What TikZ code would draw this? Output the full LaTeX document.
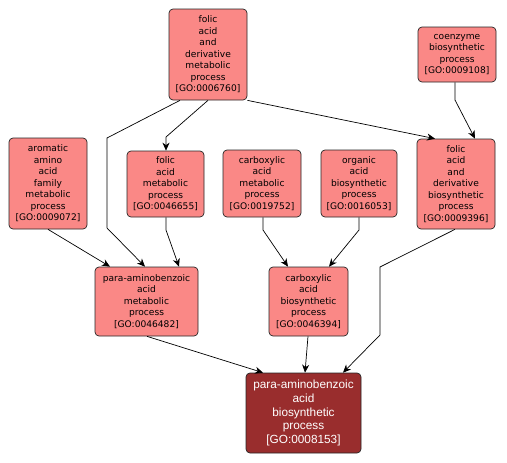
\documentclass[tikz,border=0pt]{standalone}
\usepackage{fontspec}
\newfontfamily\lightfont{DejaVu Sans}
\newfontfamily\darkfont{Liberation Sans}
\usetikzlibrary{arrows.meta}
\definecolor{lightbox}{RGB}{250,136,134}
\definecolor{darkbox}{RGB}{153,45,45}
\tikzset{
  term/.style={draw=black!85, line width=0.7pt, fill=lightbox, rounded corners=4pt,
    inner sep=0pt, align=center, font={\lightfont\fontsize{9.1}{11.5}\selectfont}},
  goal/.style={draw=black!85, line width=0.7pt, fill=darkbox, rounded corners=4pt,
    inner sep=0pt, align=center, text=white, font={\darkfont\fontsize{11.8}{13.75}\selectfont}},
  edge/.style={draw=black, line width=0.7pt, -{Stealth[length=8pt,width=7pt,inset=2.5pt]}},
}
\begin{document}
\begin{tikzpicture}[x=1pt,y=-1pt]
\useasboundingbox (0,0) rectangle (507,463);
\node[term, minimum width=78pt, minimum height=91pt] (n1) at (208,54.5) {folic\\acid\\and\\derivative\\metabolic\\process\\{[GO:0006760]}};
\node[term, minimum width=78pt, minimum height=55pt] (n2) at (457,54.5) {coenzyme\\biosynthetic\\process\\{[GO:0009108]}};
\node[term, minimum width=78pt, minimum height=90pt] (n3) at (456,184) {folic\\acid\\and\\derivative\\biosynthetic\\process\\{[GO:0009396]}};
\node[term, minimum width=78pt, minimum height=91pt] (n4) at (48,183.5) {aromatic\\amino\\acid\\family\\metabolic\\process\\{[GO:0009072]}};
\node[term, minimum width=77pt, minimum height=66pt] (n5) at (165.5,184) {folic\\acid\\metabolic\\process\\{[GO:0046655]}};
\node[term, minimum width=78pt, minimum height=67pt] (n6) at (262,183.5) {carboxylic\\acid\\metabolic\\process\\{[GO:0019752]}};
\node[term, minimum width=76pt, minimum height=67pt] (n7) at (359,183.5) {organic\\acid\\biosynthetic\\process\\{[GO:0016053]}};
\node[term, minimum width=103pt, minimum height=69pt] (n8) at (146.5,301.5) {para-aminobenzoic\\acid\\metabolic\\process\\{[GO:0046482]}};
\node[term, minimum width=79pt, minimum height=69pt] (n9) at (308.5,301.5) {carboxylic\\acid\\biosynthetic\\process\\{[GO:0046394]}};
\node[goal, minimum width=115pt, minimum height=80pt] (n10) at (303.5,413) {para-aminobenzoic\\acid\\biosynthetic\\process\\{[GO:0008153]}};
% edges
\draw[edge] (n1.south -| 180,0) -- (107,138) -- (107,228) -- (n8.north -| 145,0);
\draw[edge] (n1.south -| 208,0) -- (166,137) -- (n5.north -| 166,0);
\draw[edge] (n1.south east) -- (n3.north -| 435,0);
\draw[edge] (n2.south -| 455,0) -- (455,100) -- (n3.north -| 475,0);
\draw[edge] (n4.south -| 48,0) -- (n8.north -| 110,0);
\draw[edge] (n5.south -| 166,0) -- (166,230) -- (n8.north -| 179,0);
\draw[edge] (n6.south -| 263,0) -- (263,230) -- (n9.north -| 288,0);
\draw[edge] (n7.south -| 359,0) -- (359,230) -- (n9.north -| 329,0);
\draw[edge] (n8.south -| 147,0) -- (n10.north -| 263,0);
\draw[edge] (n9.south -| 308,0) -- (n10.north -| 305,0);
\draw[edge] (n3.south -| 455,0) -- (380,267) -- (380,335) -- (n10.north -| 343,0);
\end{tikzpicture}
\end{document}
